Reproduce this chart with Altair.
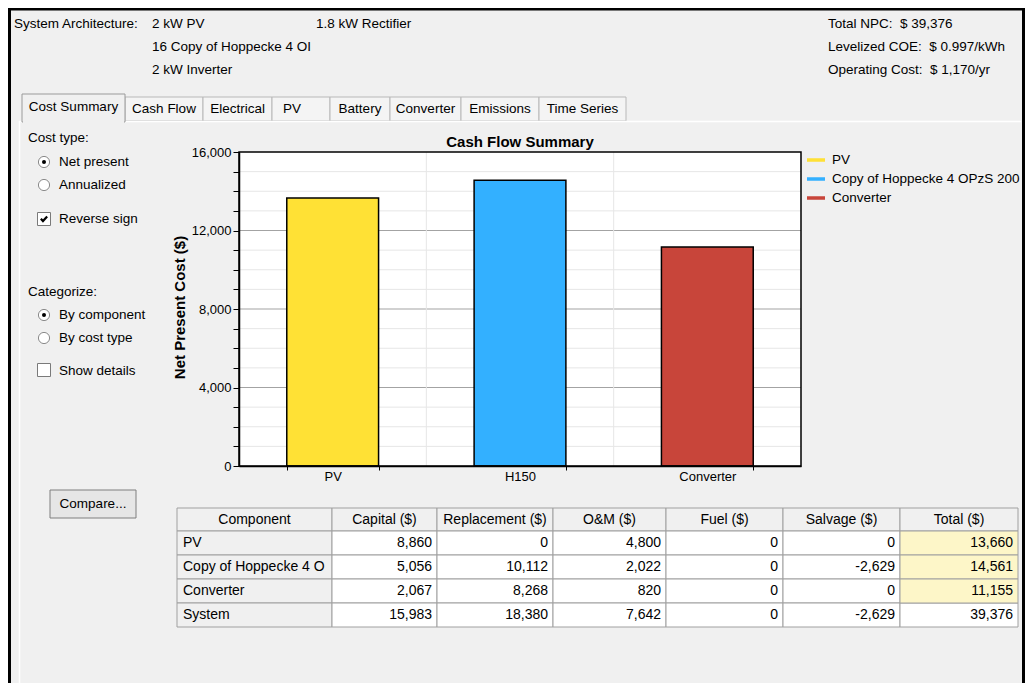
import altair as alt
import pandas as pd

FONT = "Liberation Sans"
W, H = 1017, 675
M = 8  # page margin: reference pixel -> canvas pixel


def px(v):
    return v - M


def py(v):
    return v - M


# ---------------- data ----------------
categories = ["PV", "H150", "Converter"]
series_names = ["PV", "Copy of Hoppecke 4 OPzS 200", "Converter"]
series_colors = ["#FFE135", "#33B0FF", "#C8453A"]

components = ["PV", "Copy of Hoppecke 4 OPzS 200", "Converter", "System"]
capital = [8860, 5056, 2067, 15983]
replacement = [0, 10112, 8268, 18380]
om = [4800, 2022, 820, 7642]
fuel = [0, 0, 0, 0]
salvage = [0, -2629, 0, -2629]
total = [13660, 14561, 11155, 39376]
table_headers = ["Component", "Capital ($)", "Replacement ($)", "O&M ($)",
                 "Fuel ($)", "Salvage ($)", "Total ($)"]

y_max = 16000
y_major_step = 4000
y_minor_step = 1000

arch_col1 = ["2 kW PV", "16 Copy of Hoppecke 4 OI", "2 kW Inverter"]
arch_col2 = ["1.8 kW Rectifier"]
summary_lines = ["Total NPC:\u00a0 $ 39,376", "Levelized COE:\u00a0 $ 0.997/kWh",
                 "Operating Cost:\u00a0 $ 1,170/yr"]
tab_names = ["Cost Summary", "Cash Flow", "Electrical", "PV", "Battery",
             "Converter", "Emissions", "Time Series"]

# ---------------- layout (reference pixels) ----------------
TAB_EDGES = [22, 125, 203, 272, 330, 390, 461, 539, 626]
PL, PR, PT, PB = 239, 801, 152, 466
COL_EDGES = [177, 332, 437, 553, 666, 783, 900, 1018]
ROW_EDGES = [508, 531, 555, 579, 603, 627]

ONE = pd.DataFrame({"k": [0]})


def text(s, x, y, size=13.5, align="left", weight="normal"):
    return alt.Chart(ONE).mark_text(
        text=s, align=align, baseline="middle", font=FONT, fontSize=size,
        fontWeight=weight, color="black"
    ).encode(x=alt.value(px(x)), y=alt.value(py(y)))


def box(x0, x1, y0, y1, fill, stroke=None, sw=1.0):
    kw = dict(fill=fill)
    if stroke:
        kw.update(stroke=stroke, strokeWidth=sw)
    return alt.Chart(ONE).mark_rect(**kw).encode(
        x=alt.value(px(x0)), x2=alt.value(px(x1)),
        y=alt.value(py(y0)), y2=alt.value(py(y1)))


def hline(x0, x1, y, color, sw=1.0):
    return alt.Chart(ONE).mark_rule(color=color, strokeWidth=sw).encode(
        x=alt.value(px(x0)), x2=alt.value(px(x1)), y=alt.value(py(y)))


def vline(x, y0, y1, color, sw=1.0):
    return alt.Chart(ONE).mark_rule(color=color, strokeWidth=sw).encode(
        x=alt.value(px(x)), y=alt.value(py(y0)), y2=alt.value(py(y1)))


def radio(x, y, checked):
    out = [alt.Chart(ONE).mark_point(shape="circle", filled=True, fill="white",
                                     stroke="#8a8a8a", strokeWidth=1, size=125, opacity=1)
           .encode(x=alt.value(px(x)), y=alt.value(py(y)))]
    if checked:
        out.append(alt.Chart(ONE).mark_point(shape="circle", filled=True, fill="black",
                                             size=16, opacity=1)
                   .encode(x=alt.value(px(x)), y=alt.value(py(y))))
    return out


def checkbox(x, y, checked):
    out = [alt.Chart(ONE).mark_point(shape="square", filled=True, fill="white",
                                     stroke="#7a7a7a", strokeWidth=1, size=169, opacity=1)
           .encode(x=alt.value(px(x)), y=alt.value(py(y)))]
    if checked:
        out.append(alt.Chart(ONE).mark_point(
            shape="M -0.75 -0.05 L -0.25 0.5 L 0.75 -0.6", filled=False,
            stroke="black", strokeWidth=2.2, size=70, opacity=1)
            .encode(x=alt.value(px(x)), y=alt.value(py(y))))
    return out


# ---------------- window chrome ----------------
ui = [
    box(8, 11, 8, 683, "black"),
    box(8, 1025, 8, 10.5, "black"),
    box(1022, 1025, 8, 683, "black"),
]
# header
ui.append(text("System Architecture:", 14, 24))
for i, s in enumerate(arch_col1):
    ui.append(text(s, 152, 24 + 23 * i))
for i, s in enumerate(arch_col2):
    ui.append(text(s, 316, 24 + 23 * i))
for i, s in enumerate(summary_lines):
    ui.append(text(s, 828, 24 + 23 * i))

# tabs
for i, name in enumerate(tab_names):
    a, b = TAB_EDGES[i], TAB_EDGES[i + 1]
    if i == 0:
        continue
    ui.append(box(a, b, 97, 121, "#f4f4f4", "#b8b8b8"))
    cx = (a + b) / 2 if name != "PV" else a + 20
    ui.append(text(name, cx, 109, align="center"))
ui.append(hline(19.5, 1021, 121.5, "white", 1.5))
ui.append(vline(19.5, 121, 683, "white", 1.5))
ui.append(box(TAB_EDGES[0], TAB_EDGES[1], 94, 122, "#f0f0f0", "#9a9a9a"))
ui.append(box(TAB_EDGES[0] + 1, TAB_EDGES[1] - 1, 118, 124, "#f0f0f0"))
ui.append(text(tab_names[0], (TAB_EDGES[0] + TAB_EDGES[1]) / 2, 107, align="center"))

# left controls
ui.append(text("Cost type:", 28, 138))
ui += radio(44, 162, True)
ui.append(text("Net present", 59, 162))
ui += radio(44, 185, False)
ui.append(text("Annualized", 59, 185))
ui += checkbox(44, 219, True)
ui.append(text("Reverse sign", 59, 219))
ui.append(text("Categorize:", 28, 292))
ui += radio(44, 315, True)
ui.append(text("By component", 59, 315))
ui += radio(44, 338, False)
ui.append(text("By cost type", 59, 338))
ui += checkbox(44, 370, False)
ui.append(text("Show details", 59, 371))
ui.append(box(50, 136, 490, 518, "#e6e6e6", "#7f7f7f"))
ui.append(text("Compare...", 93, 504, align="center"))

# chart title
ui.append(text("Cash Flow Summary", 520, 142, size=15, align="center", weight="bold"))

# ---------------- bar chart ----------------
yscale = alt.Scale(domain=[0, y_max], range=[py(PB), py(PT)], nice=False, zero=False)
xlin = alt.Scale(domain=[0, len(categories)], range=[px(PL), px(PR)], nice=False, zero=False)
xband = alt.Scale(domain=categories, range=[px(PL), px(PR)], paddingInner=0.51, paddingOuter=0.255)
colorscale = alt.Scale(domain=series_names, range=series_colors)

bars_df = pd.DataFrame({"category": categories, "series": series_names, "value": total[:3]})
minor_df = pd.DataFrame({"v": [v for v in range(y_minor_step, y_max, y_minor_step) if v % y_major_step]})
major_df = pd.DataFrame({"v": list(range(y_major_step, y_max, y_major_step))})
vgrid_df = pd.DataFrame({"k": list(range(1, len(categories)))})


def span_x():
    return dict(x=alt.XDatum(0, type="quantitative", scale=xlin, axis=None),
                x2=alt.X2Datum(len(categories)))


def span_y():
    return dict(y=alt.YDatum(0, type="quantitative", scale=yscale, axis=None),
                y2=alt.Y2Datum(y_max))


plot_bg = alt.Chart(ONE).mark_rect(fill="white").encode(**span_x(), **span_y())
minor = alt.Chart(minor_df).mark_rule(color="#e6e6e6", strokeWidth=1).encode(
    **span_x(), y=alt.Y("v:Q", scale=yscale, axis=None))
major = alt.Chart(major_df).mark_rule(color="#a3a3a3", strokeWidth=1.2).encode(
    **span_x(), y=alt.Y("v:Q", scale=yscale, axis=None))
vgrid = alt.Chart(vgrid_df).mark_rule(color="#e6e6e6", strokeWidth=1).encode(
    x=alt.X("k:Q", scale=xlin, axis=None), **span_y())

bars = alt.Chart(bars_df).mark_bar(stroke="black", strokeWidth=1.5).encode(
    x=alt.X("category:N", scale=xband, sort=categories, title=None,
            axis=alt.Axis(orient="bottom", offset=-(H - py(PB)), labelFont=FONT,
                          labelFontSize=13, labelColor="black", labelAngle=0,
                          tickBand="extent", tickSize=4, tickColor="black",
                          labelPadding=0, domainColor="black", domainWidth=1.5,
                          grid=False, zindex=2)),
    y=alt.Y("value:Q", scale=yscale,
            axis=alt.Axis(orient="left", offset=-px(PL),
                          values=list(range(0, y_max + 1, y_minor_step)),
                          labelExpr="datum.value % 4000 == 0 ? format(datum.value, ',') : ''",
                          labelOverlap=False, labelFont=FONT, labelFontSize=13,
                          labelColor="black", tickColor="black", tickSize=6,
                          labelPadding=2, domainColor="black", domainWidth=1.5,
                          grid=False, title="Net Present Cost ($)", titleFont=FONT,
                          titleFontSize=15, titleFontWeight="bold", titleColor="black",
                          titleX=-52, titleY=py(307), titleAngle=270, zindex=2)),
    color=alt.Color("series:N", scale=colorscale, legend=None),
)
frame = alt.Chart(ONE).mark_rect(fillOpacity=0, stroke="black", strokeWidth=1.5).encode(
    **span_x(), **span_y())

chart_area = alt.layer(plot_bg, minor, major, vgrid, bars, frame).resolve_scale(
    x="independent", y="independent")

# ---------------- legend ----------------
leg_df = pd.DataFrame({"series": series_names})
leg_y = alt.Scale(domain=series_names, range=[py(150.5), py(207.5)], paddingInner=0, paddingOuter=0)
leg_rules = alt.Chart(leg_df).mark_rule(strokeWidth=3.5).encode(
    x=alt.value(px(807)), x2=alt.value(px(825)),
    y=alt.Y("series:N", scale=leg_y, sort=series_names, axis=None),
    color=alt.Color("series:N", scale=colorscale, legend=None))
leg_text = alt.Chart(leg_df).mark_text(align="left", baseline="middle", font=FONT,
                                      fontSize=13.5, color="black").encode(
    x=alt.value(px(832)),
    y=alt.Y("series:N", scale=leg_y, sort=series_names, axis=None),
    text="series:N")
legend_layer = alt.layer(leg_rules, leg_text)

# ---------------- table ----------------
recs = []
for c, h in enumerate(table_headers):
    recs.append({"r": 0, "c": c, "t": h, "kind": "header"})
cols = [capital, replacement, om, fuel, salvage, total]
for i, comp in enumerate(components):
    recs.append({"r": i + 1, "c": 0, "t": comp, "kind": "rowhead"})
    for j, col in enumerate(cols):
        kind = "total" if (j == len(cols) - 1 and i < len(components) - 1) else "cell"
        recs.append({"r": i + 1, "c": j + 1, "t": f"{col[i]:,}", "kind": kind})
tdf = pd.DataFrame(recs)

tx = alt.Scale(domain=list(range(len(COL_EDGES))), range=[px(e) for e in COL_EDGES],
               nice=False, zero=False)
ty = alt.Scale(domain=list(range(len(ROW_EDGES))), range=[py(e) for e in ROW_EDGES],
               nice=False, zero=False)

tbase = alt.Chart(tdf).transform_calculate(
    c1="datum.c + 1", r1="datum.r + 1", cm="datum.c + 0.5", rm="datum.r + 0.5")


def cells(kinds, fill):
    return tbase.transform_filter(alt.FieldOneOfPredicate(field="kind", oneOf=kinds)).mark_rect(
        fill=fill, stroke="#a0a0a0", strokeWidth=1).encode(
        x=alt.X("c:Q", scale=tx, axis=None), x2="c1:Q",
        y=alt.Y("r:Q", scale=ty, axis=None), y2="r1:Q")


t_head = cells(["header", "rowhead"], "#f0f0f0")
t_body = cells(["cell"], "white")
t_tot = cells(["total"], "#FDF6C8")
txt_head = tbase.transform_filter(alt.datum.kind == "header").mark_text(
    align="center", baseline="middle", font=FONT, fontSize=14, color="black").encode(
    x=alt.X("cm:Q", scale=tx, axis=None), y=alt.Y("rm:Q", scale=ty, axis=None), text="t:N")
txt_row = tbase.transform_filter(alt.datum.kind == "rowhead").mark_text(
    align="left", baseline="middle", font=FONT, fontSize=14, color="black",
    dx=6, limit=150, ellipsis="\u200b").encode(
    x=alt.X("c:Q", scale=tx, axis=None), y=alt.Y("rm:Q", scale=ty, axis=None), text="t:N")
txt_num = tbase.transform_filter(
    alt.FieldOneOfPredicate(field="kind", oneOf=["cell", "total"])).mark_text(
    align="right", baseline="middle", font=FONT, fontSize=14, color="black", dx=-5).encode(
    x=alt.X("c1:Q", scale=tx, axis=None), y=alt.Y("rm:Q", scale=ty, axis=None), text="t:N")
table = alt.layer(t_head, t_body, t_tot, txt_head, txt_row, txt_num)

chart = alt.layer(*ui, chart_area, legend_layer, table).resolve_scale(
    x="independent", y="independent"
).properties(
    width=W, height=H, autosize=alt.AutoSizeParams(type="none"), padding=0,
    background="#f0f0f0"
).configure_view(strokeWidth=0)

chart.save("out.html", embed_options={"renderer": "svg", "actions": False})
